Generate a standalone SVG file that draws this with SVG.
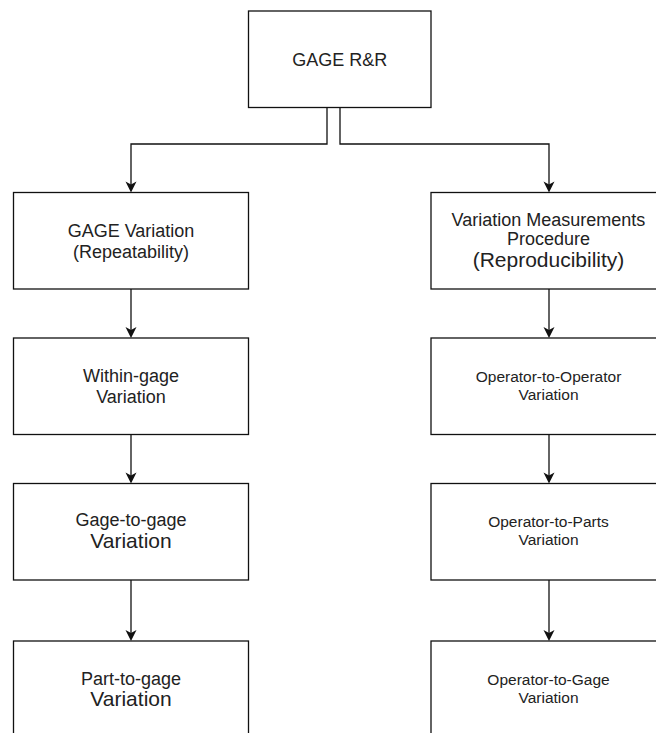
<svg xmlns="http://www.w3.org/2000/svg" width="656" height="733" viewBox="0 0 656 733">
  <defs>
    <style>
      .box { fill: #ffffff; stroke: #111111; stroke-width: 1.3; }
      .edge { fill: none; stroke: #111111; stroke-width: 1.3; }
      .head { fill: #111111; stroke: none; }
      text { font-family: "Liberation Sans", Arial, Helvetica, sans-serif; fill: #222222; text-anchor: middle; }
      .t18 { font-size: 18px; }
      .t21 { font-size: 21px; }
      .t15 { font-size: 15.5px; }
    </style>
    <!-- classic notched arrowhead, tip at the origin pointing down -->
    <path id="arrow" class="head" d="M0,0 L-5.5,-11 L0,-8 L5.5,-11 Z"/>
  </defs>
  <rect width="656" height="733" fill="#ffffff"/>

  <!-- connectors -->
  <g id="connectors">
    <polyline class="edge" points="327,107.5 327,144 131,144 131,186"/>
    <use href="#arrow" x="131" y="192.5"/>
    <polyline class="edge" points="340,107.5 340,144 549,144 549,186"/>
    <use href="#arrow" x="549" y="192.5"/>

    <line class="edge" x1="131" y1="289" x2="131" y2="332"/>
    <use href="#arrow" x="131" y="338"/>
    <line class="edge" x1="131" y1="434.5" x2="131" y2="477"/>
    <use href="#arrow" x="131" y="483.5"/>
    <line class="edge" x1="131" y1="580" x2="131" y2="635"/>
    <use href="#arrow" x="131" y="641"/>

    <line class="edge" x1="549" y1="289" x2="549" y2="332"/>
    <use href="#arrow" x="549" y="338"/>
    <line class="edge" x1="549" y1="434.5" x2="549" y2="477"/>
    <use href="#arrow" x="549" y="483.5"/>
    <line class="edge" x1="549" y1="580" x2="549" y2="635"/>
    <use href="#arrow" x="549" y="641"/>
  </g>

  <!-- root -->
  <g id="gage-rr">
    <rect class="box" x="248.5" y="11" width="182.5" height="96.5"/>
    <text class="t18" x="339.75" y="65.5">GAGE R&amp;R</text>
  </g>

  <!-- left branch: repeatability -->
  <g id="gage-variation">
    <rect class="box" x="13.5" y="192.5" width="235" height="96.5"/>
    <text class="t18" x="131" y="237">GAGE Variation</text>
    <text class="t18" x="131" y="258">(Repeatability)</text>
  </g>
  <g id="within-gage">
    <rect class="box" x="13.5" y="338" width="235" height="96.5"/>
    <text class="t18" x="131" y="381.5">Within-gage</text>
    <text class="t18" x="131" y="402.5">Variation</text>
  </g>
  <g id="gage-to-gage">
    <rect class="box" x="13.5" y="483.5" width="235" height="96.5"/>
    <text class="t18" x="131" y="526">Gage-to-gage</text>
    <text class="t21" x="131" y="548">Variation</text>
  </g>
  <g id="part-to-gage">
    <rect class="box" x="13.5" y="641" width="235" height="96.5"/>
    <text class="t18" x="131" y="684.5">Part-to-gage</text>
    <text class="t21" x="131" y="706">Variation</text>
  </g>

  <!-- right branch: reproducibility -->
  <g id="measurement-procedure">
    <rect class="box" x="431" y="192.5" width="235" height="96.5"/>
    <text class="t18" x="548.5" y="225.5">Variation Measurements</text>
    <text class="t18" x="548.5" y="245">Procedure</text>
    <text class="t21" x="548.5" y="267">(Reproducibility)</text>
  </g>
  <g id="operator-to-operator">
    <rect class="box" x="431" y="338" width="235" height="96.5"/>
    <text class="t15" x="548.5" y="381.5">Operator-to-Operator</text>
    <text class="t15" x="548.5" y="400">Variation</text>
  </g>
  <g id="operator-to-parts">
    <rect class="box" x="431" y="483.5" width="235" height="96.5"/>
    <text class="t15" x="548.5" y="527">Operator-to-Parts</text>
    <text class="t15" x="548.5" y="545">Variation</text>
  </g>
  <g id="operator-to-gage">
    <rect class="box" x="431" y="641" width="235" height="96.5"/>
    <text class="t15" x="548.5" y="684.5">Operator-to-Gage</text>
    <text class="t15" x="548.5" y="702.5">Variation</text>
  </g>
</svg>
